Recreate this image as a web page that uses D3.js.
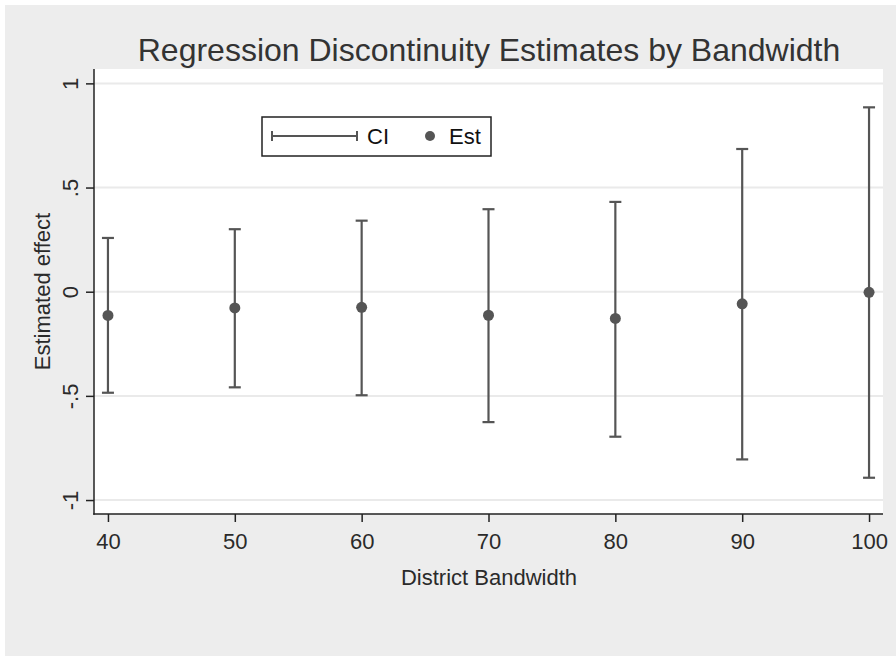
<!DOCTYPE html>
<html>
<head>
<meta charset="utf-8">
<script src="https://cdn.jsdelivr.net/npm/d3@7/dist/d3.min.js"></script>
<style>
  html, body { margin: 0; padding: 0; background: #ffffff; }
  svg { display: block; }
  text { font-family: "Liberation Sans", Arial, sans-serif; }
</style>
</head>
<body>
<svg id="chart" width="896" height="657"></svg>
<script>
// Bandwidths and regression-discontinuity estimates with 95% CI bounds
const bandwidths = [40, 50, 60, 70, 80, 90, 100];
const estimates  = [-0.114, -0.078, -0.075, -0.113, -0.128, -0.058, -0.003];
const ciLower    = [-0.485, -0.459, -0.497, -0.626, -0.696, -0.805, -0.893];
const ciUpper    = [ 0.258,  0.300,  0.341,  0.396,  0.431,  0.685,  0.885];
const yTicks      = [-1, -0.5, 0, 0.5, 1];
const yTickLabels = ["-1", "-.5", "0", ".5", "1"];
const xTicks      = [40, 50, 60, 70, 80, 90, 100];

const W = 896, H = 657;
const plot = { left: 94, right: 883, top: 69, bottom: 514 };
const ink = "#555555";
const textColor = "#2a2a2a";
const labelSize = 22;

const svg = d3.select("#chart");

// graph region background
svg.append("rect").attr("x", 5).attr("y", 5).attr("width", W - 5).attr("height", H - 6)
  .attr("fill", "#ededed");

// plot region
svg.append("rect").attr("x", plot.left).attr("y", plot.top)
  .attr("width", plot.right - plot.left).attr("height", plot.bottom - plot.top)
  .attr("fill", "#ffffff");

const x = d3.scaleLinear().domain([38.9, 101.1]).range([plot.left, plot.right]);
const y = d3.scaleLinear().domain([-1.067, 1.069]).range([plot.bottom, plot.top]);

// horizontal grid lines
svg.append("g").selectAll("line").data(yTicks).join("line")
  .attr("x1", plot.left).attr("x2", plot.right)
  .attr("y1", d => y(d)).attr("y2", d => y(d))
  .attr("stroke", "#eaeaea").attr("stroke-width", 2);

// y axis
const yAxis = svg.append("g").attr("transform", `translate(${plot.left},0)`)
  .call(d3.axisLeft(y).tickValues(yTicks).tickSize(8).tickSizeOuter(0)
    .tickFormat((d, i) => yTickLabels[i]));
yAxis.select(".domain").remove();
yAxis.selectAll(".tick line").attr("stroke", "#222").attr("stroke-width", 1.5);
yAxis.selectAll(".tick text")
  .attr("fill", textColor).attr("font-size", labelSize)
  .attr("transform", "rotate(-90)")
  .attr("x", 0).attr("y", -16).attr("dy", "0")
  .attr("text-anchor", "middle");

// x axis
const xAxis = svg.append("g").attr("transform", `translate(0,${plot.bottom})`)
  .call(d3.axisBottom(x).tickValues(xTicks).tickSize(8).tickSizeOuter(0));
xAxis.select(".domain").remove();
xAxis.selectAll(".tick line").attr("stroke", "#222").attr("stroke-width", 1.5);
xAxis.selectAll(".tick text")
  .attr("fill", textColor).attr("font-size", labelSize).attr("y", 35).attr("dy", "0");

// axis lines
svg.append("line").attr("x1", plot.left).attr("x2", plot.left)
  .attr("y1", plot.top).attr("y2", plot.bottom + 0.75)
  .attr("stroke", "#222").attr("stroke-width", 1.5);
svg.append("line").attr("x1", plot.left - 0.75).attr("x2", plot.right)
  .attr("y1", plot.bottom).attr("y2", plot.bottom)
  .attr("stroke", "#222").attr("stroke-width", 1.5);

// confidence intervals
const capHalf = 6;
const ci = svg.append("g").attr("stroke", ink).attr("stroke-width", 2.2);
bandwidths.forEach((b, i) => {
  const cx = x(b);
  ci.append("line").attr("x1", cx).attr("x2", cx)
    .attr("y1", y(ciLower[i])).attr("y2", y(ciUpper[i]));
  ci.append("line").attr("x1", cx - capHalf).attr("x2", cx + capHalf)
    .attr("y1", y(ciUpper[i])).attr("y2", y(ciUpper[i]));
  ci.append("line").attr("x1", cx - capHalf).attr("x2", cx + capHalf)
    .attr("y1", y(ciLower[i])).attr("y2", y(ciLower[i]));
});

// point estimates
svg.append("g").selectAll("circle").data(bandwidths).join("circle")
  .attr("cx", d => x(d)).attr("cy", (d, i) => y(estimates[i]))
  .attr("r", 5.5).attr("fill", ink);

// title
svg.append("text").attr("x", 489).attr("y", 61).attr("text-anchor", "middle")
  .attr("font-size", 32).attr("fill", "#333333")
  .text("Regression Discontinuity Estimates by Bandwidth");

// axis titles
svg.append("text").attr("x", 489).attr("y", 585).attr("text-anchor", "middle")
  .attr("font-size", labelSize).attr("fill", textColor).text("District Bandwidth");
svg.append("text").attr("transform", `translate(50,${(plot.top + plot.bottom) / 2}) rotate(-90)`)
  .attr("text-anchor", "middle")
  .attr("font-size", labelSize).attr("fill", textColor).text("Estimated effect");

// legend
const lg = svg.append("g");
lg.append("rect").attr("x", 262).attr("y", 117).attr("width", 229).attr("height", 39)
  .attr("fill", "#ffffff").attr("stroke", "#222").attr("stroke-width", 1.5);
const ly = 136;
lg.append("line").attr("x1", 272).attr("x2", 357).attr("y1", ly).attr("y2", ly)
  .attr("stroke", ink).attr("stroke-width", 2);
lg.append("line").attr("x1", 272).attr("x2", 272).attr("y1", ly - 5).attr("y2", ly + 5)
  .attr("stroke", ink).attr("stroke-width", 2);
lg.append("line").attr("x1", 357).attr("x2", 357).attr("y1", ly - 5).attr("y2", ly + 5)
  .attr("stroke", ink).attr("stroke-width", 2);
lg.append("text").attr("x", 367).attr("y", ly + 8).attr("font-size", labelSize)
  .attr("fill", "#111").text("CI");
lg.append("circle").attr("cx", 430).attr("cy", ly).attr("r", 5).attr("fill", ink);
lg.append("text").attr("x", 449).attr("y", ly + 8).attr("font-size", labelSize)
  .attr("fill", "#111").text("Est");
</script>
</body>
</html>
